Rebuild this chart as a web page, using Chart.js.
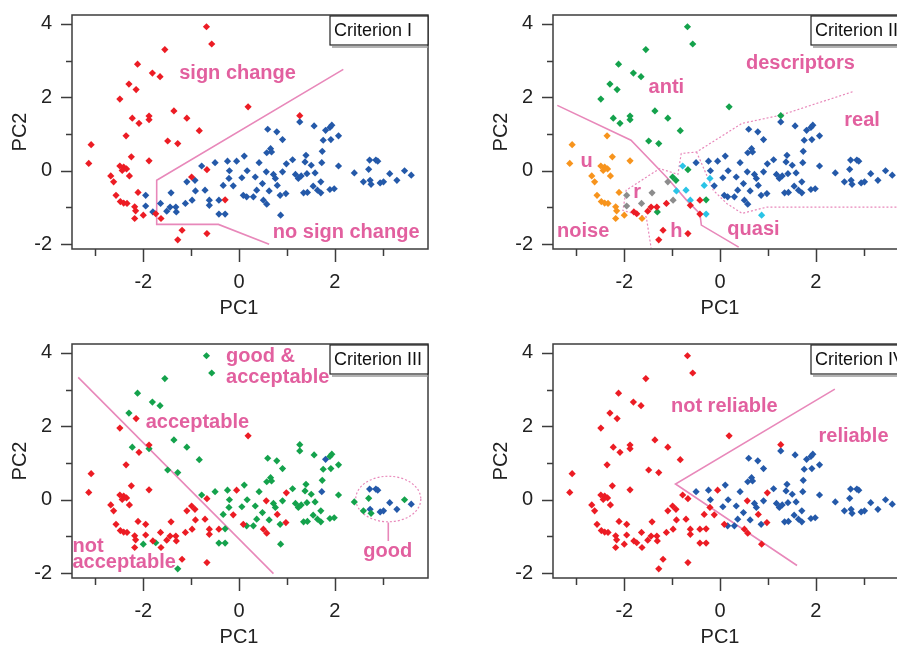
<!DOCTYPE html>
<html>
<head>
<meta charset="utf-8">
<script src="https://cdn.jsdelivr.net/npm/chart.js@4.4.1/dist/chart.umd.min.js"></script>
<style>
  html, body { margin: 0; padding: 0; background: #fff; }
  body { width: 897px; height: 647px; overflow: hidden; position: relative; }
  .panel { position: absolute; width: 450px; height: 320px; }
</style>
</head>
<body>
<div class="panel" style="left:0;top:0"><canvas id="c1" width="450" height="320"></canvas></div>
<div class="panel" style="left:481px;top:0"><canvas id="c2" width="450" height="320"></canvas></div>
<div class="panel" style="left:0;top:329px"><canvas id="c3" width="450" height="320"></canvas></div>
<div class="panel" style="left:481px;top:329px"><canvas id="c4" width="450" height="320"></canvas></div>
<script>
// PCA scores of the compounds (same points in all four panels)
const pc1 = [
  -0.68, -0.57, -1.55, -2.12, -1.81, -1.65, -2.30, -2.15, -2.49, -1.36,
   0.19, -1.88, -1.88, -2.23, -2.09, -1.09, -0.83,  1.27, -2.36, -1.49,
  -1.28, -3.09, -3.14, -2.25, -1.88, -2.49, -2.41, -2.44, -2.35, -2.68,
  -2.62, -2.29, -0.67, -0.99, -2.57, -2.11, -2.48, -2.41, -2.34, -2.18,
  -2.16, -2.00, -2.18, -1.74, -1.63, -0.29, -1.19, -1.28, -0.67, -1.95,
  -1.95, -1.80, -1.64, -1.51, -1.42, -1.44, -1.32, -1.31, -1.09, -1.12,
  -0.98, -0.92, -0.91, -0.78, -0.71, -0.62, -0.62, -0.50, -0.42, -0.42,
  -0.29, -0.33, -0.24, -0.20, -0.21, -0.05, -0.12,  0.06,  0.11,  0.17,
   0.09,  0.16,  0.30,  0.34,  0.37,  0.42,  0.49,  0.51,  0.58,  0.57,
   0.58,  0.60,  0.66,  0.68,  0.72,  0.63,  0.79,  0.76,  0.80,  0.86,
   0.91,  0.91,  0.87,  0.98,  0.99,  1.12,  1.18,  1.24,  1.27,  1.30,
   1.35,  1.38,  1.40,  1.42,  1.43,  1.51,  1.55,  1.57,  1.59,  1.64,
   1.71,  1.73,  1.71,  1.74,  1.76,  1.81,  1.90,  1.94,  1.92,  1.90,
   2.08,  2.08,  1.99,  2.41,  2.60,  2.71,  2.73,  2.74,  2.76,  2.86,
   2.90,  2.95,  3.02,  3.15,  3.30,  3.46,  3.60
];
const pc2 = [
   3.92,  3.45,  3.30,  2.90,  2.66,  2.56,  2.36,  2.21,  1.95,  1.63,
   1.74,  1.49,  1.39,  1.43,  1.29,  1.43,  1.09,  1.50,  0.95,  0.81,
   0.74,  0.71,  0.20,  0.38,  0.27,  0.13,  0.10,  0.01,  0.05, -0.14,
  -0.30, -0.14,  0.03, -0.17, -0.67, -0.59, -0.84, -0.88, -0.89, -0.98,
  -1.09, -1.21, -1.30, -1.17, -1.30, -0.79, -1.62, -1.88, -1.71, -0.67,
  -0.96, -1.12, -0.89, -1.10, -0.60, -0.99, -0.99, -1.12, -0.30, -0.89,
  -0.80, -0.26, -0.55,  0.13, -0.53, -0.80, -0.94,  0.22, -0.80, -1.18,
  -1.18, -0.40,  0.26,  0.00, -0.21,  0.26, -0.41, -0.19,  0.40,  0.00,
  -0.67, -0.71, -0.71, -0.17, -0.53,  0.22, -0.35, -0.80, -0.91, -0.03,
   0.49,  1.13,  0.60,  0.51, -0.10, -0.55,  1.06, -0.21, -0.40, -0.67,
   0.85, -0.03, -1.21, -0.62,  0.19,  0.30, -0.10, -0.21,  1.33, -0.14,
  -0.60,  0.24,  0.42, -0.08, -0.59,  0.15, -0.42,  1.22, -0.06, -0.53,
  -0.30,  0.22, -0.60,  0.53,  0.83,  1.10,  1.18,  1.24,  0.85, -0.51,
   0.95,  0.13, -0.49, -0.06, -0.30,  0.04,  0.29, -0.26, -0.37,  0.29,
   0.26, -0.33, -0.30, -0.08, -0.26,  0.00, -0.12
];

// class of each point per criterion (r red, b blue, g green, o orange, k grey, c cyan)
const crit1 = ('rrrrrrrrrr rrrrrrrrrr rrrrrrrrrr rrrrrrrrrr rrrrrrrrrb ' +
  'bbbbbbbbbb bbbbbbbbbb bbbbbbbbbb bbbbbbbbbb bbbbbbbbbb ' +
  'bbbbbbbbbb bbbbbbbbbb bbbbbbbbbb bbbbbbbbbb bbbbbbb').replace(/ /g, '');
const crit2 = ('gggggggggg ggggggggog gooooooooo ooggoooooo ooorogrrrk ' +
  'krkrkrrgkr kgccccrbrr ccbbcbbbbb bbbbbbbbbb bbbbbbbbbb ' +
  'bbcbbbbbbb bbbbbbbbbb bbbbbbbbbb bbbbbbbbbb bbbbbbb').replace(/ /g, '');
const crit3 = ('gggggggrrg rrggrgggrg grrrrrrrrr rrrrrrrrrr rgrgrgrgrr ' +
  'rrrrrrrrrr rrrgrrrgrg gggggrrggg rggggggrrr ggggggggrg ' +
  'gggrrggggg gggggggggg gbgggbgggg ggggggbbgb bbbbbgb').replace(/ /g, '');
const crit4 = ('rrrrrrrrrr rrrrrrrrrr rrrrrrrrrr rrrrrrrrrr rrrrrrrrrr ' +
  'rrrrrrrrrr rrrrrrrbrr rrbbrrrbbb rbbbbbbrrr bbbbbbbbrb ' +
  'bbrrrbbbbb bbbbbbbbbb bbbbbbbbbb bbbbbbbbbb bbbbbbb').replace(/ /g, '');

// class boundaries drawn in the panels
const border1X = [2.18, -1.72, -1.72, -0.43, 0.63];
const border1Y = [2.76, -0.26, -1.46, -1.46, -2.00];
const border2X = [-3.40, -1.86, -1.12, -0.70, -0.42, -0.39, 0.39];
const border2Y = [1.78, 0.83, -0.17, -0.80, -1.17, -1.48, -2.08];
const upper2X = [2.77, 1.26, 0.46, -0.49, -0.81, -0.88, -1.26, -1.96, -2.03, -1.54, -1.44];
const upper2Y = [2.15, 1.51, 1.29, 0.51, 0.47, -0.10, 0.06, -0.53, -1.08, -1.26, -2.10];
const lower2X = [-0.49, -0.14, 0.14, 0.46, 0.98, 3.95];
const lower2Y = [0.51, -0.53, -0.89, -1.16, -0.99, -0.99];
const border3X = [-3.36, 0.72];
const border3Y = [3.33, -2.01];
const stem3X = [3.12, 3.12];
const stem3Y = [-0.62, -1.12];
const border4X = [2.40, -0.93, 1.61];
const border4Y = [3.01, 0.43, -1.79];

const colours = { r: '#ec1c24', b: '#2459a9', g: '#14a24c', o: '#f7941d', k: '#8c8c8c', c: '#2ac4e6' };
const pink = '#e2609f';
const lineColour = '#e888ba';
const family = '"Liberation Sans", Arial, sans-serif';

function toPoints(xs, ys) {
  return xs.map((x, i) => ({ x: x, y: ys[i] }));
}

function pointSets(classes) {
  const sets = [];
  ['o', 'k', 'r', 'g', 'c', 'b'].forEach(code => {
    const data = [];
    for (let i = 0; i < pc1.length; i++) {
      if (classes[i] === code) data.push({ x: pc1[i], y: pc2[i] });
    }
    if (data.length) {
      sets.push({
        data: data,
        pointStyle: 'rectRot',
        pointRadius: 3.6,
        backgroundColor: colours[code],
        borderWidth: 0,
        order: 1
      });
    }
  });
  return sets;
}

function lineSet(xs, ys, dashed) {
  return {
    data: toPoints(xs, ys),
    showLine: true,
    pointRadius: 0,
    borderColor: lineColour,
    borderWidth: dashed ? 1.2 : 1.6,
    borderDash: dashed ? [2, 2] : [],
    fill: false,
    order: 5
  };
}

// frame, tick marks, axis titles, region labels and the criterion box
const decor = {
  id: 'decor',
  beforeDatasetsDraw(chart, args, opts) {
    if (!opts.ellipse) return;
    const ctx = chart.ctx, xs = chart.scales.x, ys = chart.scales.y;
    const e = opts.ellipse;
    const cx = xs.getPixelForValue(e.x), cy = ys.getPixelForValue(e.y);
    const rx = xs.getPixelForValue(e.x + e.rx) - cx;
    const ry = cy - ys.getPixelForValue(e.y + e.ry);
    ctx.save();
    ctx.strokeStyle = lineColour;
    ctx.lineWidth = 1.2;
    ctx.setLineDash([2, 2]);
    ctx.beginPath();
    ctx.ellipse(cx, cy, rx, ry, 0, 0, Math.PI * 2);
    ctx.stroke();
    ctx.restore();
  },
  afterDatasetsDraw(chart, args, opts) {
    const ctx = chart.ctx, a = chart.chartArea;
    const xs = chart.scales.x, ys = chart.scales.y;
    ctx.save();
    ctx.strokeStyle = '#3c3c3c';
    ctx.lineWidth = 1.5;
    ctx.strokeRect(a.left, a.top, a.right - a.left, a.bottom - a.top);
    ctx.beginPath();
    xs.ticks.forEach(t => {
      const px = Math.round(xs.getPixelForValue(t.value)) + 0.5;
      const len = t.value % 2 === 0 ? 13 : 7;
      ctx.moveTo(px, a.bottom);
      ctx.lineTo(px, a.bottom + len);
    });
    ys.ticks.forEach(t => {
      const py = Math.round(ys.getPixelForValue(t.value)) + 0.5;
      const len = t.value % 2 === 0 ? 11 : 6;
      ctx.moveTo(a.left - len, py);
      ctx.lineTo(a.left, py);
    });
    ctx.stroke();

    // axis titles
    ctx.fillStyle = '#222';
    ctx.font = '20px ' + family;
    ctx.textAlign = 'center';
    ctx.textBaseline = 'middle';
    ctx.fillText('PC1', xs.getPixelForValue(0), a.bottom + 59);
    ctx.save();
    ctx.translate(20, (a.top + a.bottom) / 2);
    ctx.rotate(-Math.PI / 2);
    ctx.fillText('PC2', 0, 0);
    ctx.restore();

    // region labels
    ctx.fillStyle = pink;
    ctx.font = 'bold 20px ' + family;
    (opts.labels || []).forEach(l => {
      ctx.textAlign = l.align || 'center';
      ctx.fillText(l.text, xs.getPixelForValue(l.x), ys.getPixelForValue(l.y));
    });

    // criterion box
    const bw = 98, bh = 29;
    const bx = a.right - bw, by = a.top + 1;
    ctx.fillStyle = '#fff';
    ctx.fillRect(bx, by, bw, bh);
    ctx.strokeStyle = '#222';
    ctx.lineWidth = 1.2;
    ctx.strokeRect(bx, by, bw, bh);
    ctx.strokeStyle = '#9a9a9a';
    ctx.lineWidth = 1.5;
    ctx.beginPath();
    ctx.moveTo(bx + 2, by + bh + 2);
    ctx.lineTo(a.right, by + bh + 2);
    ctx.stroke();
    ctx.fillStyle = '#111';
    ctx.font = '18px ' + family;
    ctx.textAlign = 'left';
    ctx.fillText(opts.title, bx + 4, by + bh / 2 + 1);
    ctx.restore();
  }
};

function tickLabel(v) {
  return v % 2 === 0 ? String(v) : '';
}

function makePanel(id, classes, lines, decorOpts) {
  new Chart(document.getElementById(id), {
    type: 'scatter',
    data: { datasets: pointSets(classes).concat(lines) },
    options: {
      responsive: false,
      animation: false,
      events: [],
      devicePixelRatio: 1,
      layout: { padding: { left: 0, top: 15, right: 22, bottom: 0 } },
      plugins: { legend: { display: false }, tooltip: { enabled: false }, decor: decorOpts },
      scales: {
        x: {
          type: 'linear', min: -3.49, max: 3.95,
          afterFit: s => { s.height = 71; s.paddingLeft = 0; s.paddingRight = 0; s.paddingTop = 0; s.paddingBottom = 0; },
          grid: { display: false, drawTicks: false },
          border: { display: false },
          ticks: {
            stepSize: 1, includeBounds: false, autoSkip: false, maxRotation: 0,
            padding: 21, color: '#222', font: { size: 20, family: family },
            callback: tickLabel
          }
        },
        y: {
          type: 'linear', min: -2.13, max: 4.24,
          afterFit: s => { s.width = 72; s.paddingTop = 0; s.paddingBottom = 0; s.paddingLeft = 0; s.paddingRight = 0; },
          grid: { display: false, drawTicks: false },
          border: { display: false },
          ticks: {
            stepSize: 1, includeBounds: false, autoSkip: false,
            padding: 20, color: '#222', font: { size: 20, family: family },
            callback: tickLabel
          }
        }
      }
    },
    plugins: [decor]
  });
}

makePanel('c1', crit1, [lineSet(border1X, border1Y, false)], {
  title: 'Criterion I',
  labels: [
    { text: 'sign change', x: -0.03, y: 2.65 },
    { text: 'no sign change', x: 2.24, y: -1.68 }
  ]
});

makePanel('c2', crit2, [
  lineSet(border2X, border2Y, false),
  lineSet(upper2X, upper2Y, true),
  lineSet(lower2X, lower2Y, true)
], {
  title: 'Criterion II',
  labels: [
    { text: 'descriptors', x: 1.68, y: 2.92 },
    { text: 'anti', x: -1.12, y: 2.27 },
    { text: 'real', x: 2.97, y: 1.38 },
    { text: 'u', x: -2.79, y: 0.26 },
    { text: 'r', x: -1.73, y: -0.60 },
    { text: 'noise', x: -2.86, y: -1.65 },
    { text: 'h', x: -0.91, y: -1.64 },
    { text: 'quasi', x: 0.70, y: -1.60 }
  ]
});

makePanel('c3', crit3, [
  lineSet(border3X, border3Y, false),
  lineSet(stem3X, stem3Y, false)
], {
  title: 'Criterion III',
  ellipse: { x: 3.12, y: 0.02, rx: 0.68, ry: 0.62 },
  labels: [
    { text: 'good &', x: -0.27, y: 3.91, align: 'left' },
    { text: 'acceptable', x: -0.27, y: 3.33, align: 'left' },
    { text: 'acceptable', x: -0.87, y: 2.09 },
    { text: 'not', x: -3.48, y: -1.26, align: 'left' },
    { text: 'acceptable', x: -3.48, y: -1.71, align: 'left' },
    { text: 'good', x: 3.11, y: -1.41 }
  ]
});

makePanel('c4', crit4, [lineSet(border4X, border4Y, false)], {
  title: 'Criterion IV',
  labels: [
    { text: 'not reliable', x: 0.09, y: 2.55 },
    { text: 'reliable', x: 2.79, y: 1.73 }
  ]
});
</script>
</body>
</html>
